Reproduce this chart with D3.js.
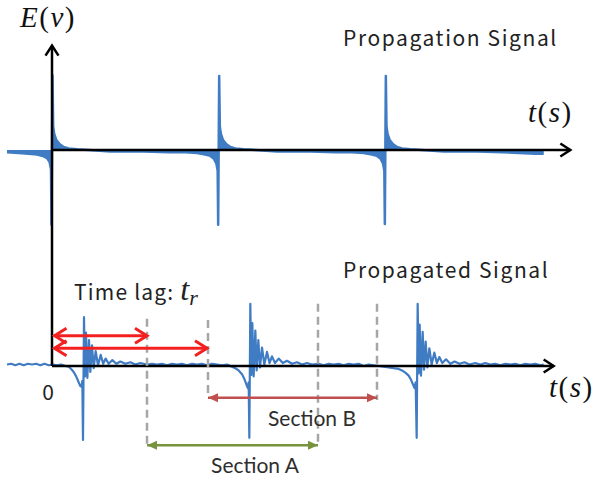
<!DOCTYPE html>
<meta charset="utf-8">
<style>
  body { margin: 0; background: #fff; }
</style>
<body>
<div class="chart"></div>
<script src="https://d3js.org/d3.v7.min.js"></script>
<script>

// time t (ms), amplitude v normalised to the spike height
var topSignal = [
  [-2.7,-0.03],[-2.0,-0.04],[-1.4,-0.05],[-0.9,-0.06],[-0.55,-0.08],[-0.3,-0.11],[-0.15,-0.16],[-0.06,-0.26],
  [-0.03,-1.01],[0.03,1.01],[0.07,0.32],[0.13,0.22],[0.25,0.14],[0.45,0.08],[0.7,0.04],[1.0,0.02],[1.5,0.01],
  [2.2,0.0],[3.5,-0.02],[5.5,-0.02],[7.0,-0.03],[8.0,-0.03],[8.7,-0.04],[9.2,-0.06],[9.5,-0.08],[9.72,-0.12],
  [9.86,-0.18],[9.94,-0.28],[9.97,-1.01],[10.03,1.0],[10.07,0.32],[10.13,0.22],[10.25,0.14],[10.45,0.08],
  [10.7,0.04],[11.0,0.02],[11.5,0.01],[12.2,0.0],[13.5,-0.02],[15.5,-0.02],[17.0,-0.03],[18.0,-0.03],
  [18.7,-0.04],[19.2,-0.06],[19.5,-0.08],[19.72,-0.12],[19.86,-0.18],[19.94,-0.28],[19.97,-1.0],[20.03,1.0],
  [20.07,0.32],[20.13,0.22],[20.25,0.14],[20.45,0.08],[20.7,0.04],[21.0,0.02],[21.5,0.01],[22.2,0.0],
  [23.5,-0.02],[25.5,-0.02],[27.0,-0.03],[28.0,-0.04],[29.0,-0.05],[29.5,-0.05]
];

var bottomSignal = [
  [-2.7,0.02],[-2.45,0.03],[-2.2,0.01],[-1.95,0.03],[-1.7,0.01],[-1.45,0.03],[-1.2,0.02],[-0.95,0.03],
  [-0.7,0.01],[-0.45,0.03],[-0.2,0.01],[0.05,0.02],[0.3,0.01],[0.55,0.02],[0.8,0.0],[1.0,-0.01],
  [1.15,-0.04],[1.3,-0.08],[1.45,-0.14],[1.58,-0.21],[1.7,-0.27],[1.78,-0.28],[1.82,-0.2],[1.86,-1.0],
  [1.92,0.66],[1.98,-0.14],[2.04,0.45],[2.12,-0.16],[2.22,0.35],[2.3,-0.08],[2.4,0.28],[2.5,-0.03],
  [2.62,0.2],[2.76,0.01],[2.92,0.15],[3.07,0.03],[3.22,0.1],[3.4,0.03],[3.62,0.08],[3.86,0.03],
  [4.1,0.06],[4.4,0.03],[4.7,0.05],[5.0,0.02],[5.3,0.04],[5.7,0.02],[6.0,0.03],[6.3,0.02],[6.6,0.03],
  [6.9,0.01],[7.2,0.03],[7.5,0.02],[7.8,0.03],[8.1,0.01],[8.4,0.03],[8.7,0.02],[9.0,0.03],[9.3,0.01],
  [9.6,0.03],[9.9,0.02],[10.2,0.01],[10.5,0.02],[10.8,-0.01],
  [11.0,-0.03],[11.2,-0.06],[11.4,-0.11],[11.55,-0.18],[11.68,-0.26],[11.76,-0.3],[11.8,-0.22],[11.84,-0.97],
  [11.9,0.84],[11.96,-0.12],[12.02,0.58],[12.1,-0.14],[12.2,0.48],[12.28,-0.06],[12.38,0.35],[12.48,-0.02],
  [12.6,0.25],[12.74,0.02],[12.9,0.19],[13.05,0.04],[13.2,0.13],[13.38,0.04],[13.6,0.1],[13.85,0.04],
  [14.1,0.07],[14.4,0.03],[14.7,0.05],[15.0,0.02],[15.3,0.04],[15.6,0.02],[16.0,0.03],[16.3,0.01],
  [16.6,0.03],[16.9,0.02],[17.2,0.03],[17.5,0.01],[17.8,0.03],[18.1,0.02],[18.4,0.03],[18.7,0.0],
  [19.0,0.02],[19.3,0.01],[19.6,0.0],[19.9,-0.01],[20.2,-0.02],[20.5,-0.03],[20.8,-0.04],
  [21.0,-0.06],[21.2,-0.09],[21.4,-0.13],[21.55,-0.19],[21.68,-0.26],[21.76,-0.3],[21.82,-0.22],[21.88,-0.97],
  [21.94,0.84],[22.0,-0.1],[22.06,0.56],[22.14,-0.13],[22.24,0.46],[22.32,-0.05],[22.42,0.33],[22.52,-0.02],
  [22.64,0.24],[22.78,0.02],[22.94,0.18],[23.09,0.04],[23.24,0.12],[23.42,0.04],[23.64,0.09],[23.9,0.03],
  [24.15,0.06],[24.45,0.03],[24.75,0.05],[25.05,0.02],[25.4,0.04],[25.7,0.02],[26.0,0.04],[26.3,0.02],
  [26.6,0.03],[26.9,0.01],[27.2,0.03],[27.5,0.02],[27.8,0.03],[28.1,0.01],[28.4,0.03],[28.7,0.02],
  [29.0,0.03],[29.3,0.01],[29.5,0.02]
];

// annotations (t in ms)
var lagEnds = [5.76, 9.36];
var lagLevels = [0.41, 0.24];
var sectionA = [5.7, 15.96];
var sectionB = [9.36, 19.5];
var dashTimes = [5.7, 9.36, 15.96, 19.5];
var dashTops = [0.64, 0.62, 0.84, 0.84];
var dashBottoms = [-1.07, -0.43, -1.07, -0.46];

var width = 604, height = 483;
var blue = "#3f7cc4";

var x = d3.scaleLinear().domain([0, 30]).range([52, 552]);
var yTop = d3.scaleLinear().domain([-1, 1]).range([224, 76]);
var yBot = d3.scaleLinear().domain([-1, 1]).range([440, 292]);

var svg = d3.select(".chart").append("svg")
    .attr("width", width)
    .attr("height", height)
    .style("display", "block");

// markers
var defs = svg.append("defs");
function chevron(id, color, w, len, half) {
  defs.append("marker")
      .attr("id", id)
      .attr("viewBox", (-len - 3) + " " + (-half - 3) + " " + (len + 6) + " " + (2 * half + 6))
      .attr("refX", 0).attr("refY", 0)
      .attr("markerWidth", len + 6).attr("markerHeight", 2 * half + 6)
      .attr("markerUnits", "userSpaceOnUse")
      .attr("orient", "auto-start-reverse")
    .append("path")
      .attr("d", "M" + (-len) + "," + (-half) + "L0,0L" + (-len) + "," + half)
      .attr("fill", "none")
      .attr("stroke", color)
      .attr("stroke-width", w)
      .attr("stroke-linejoin", "miter");
}
function triangle(id, color) {
  defs.append("marker")
      .attr("id", id)
      .attr("viewBox", "-10 -5 11 10")
      .attr("refX", 0).attr("refY", 0)
      .attr("markerWidth", 11).attr("markerHeight", 10)
      .attr("markerUnits", "userSpaceOnUse")
      .attr("orient", "auto-start-reverse")
    .append("path")
      .attr("d", "M-10,-4.5L0,0L-10,4.5Z")
      .attr("fill", color);
}
chevron("axisHead", "#000", 2.5, 10, 6.5);
chevron("redHead", "#f42020", 3, 12, 7.5);
triangle("headB", "#c0504d");
triangle("headA", "#77933c");

// signals
function drawSignal(data, y, filled) {
  if (filled) {
    svg.append("path")
        .datum(data)
        .attr("fill", blue)
        .attr("d", d3.area()
          .x(function(d) { return x(d[0]); })
          .y0(y(0))
          .y1(function(d) { return y(d[1]); }));
  }
  svg.append("path")
      .datum(data)
      .attr("fill", "none")
      .attr("stroke", blue)
      .attr("stroke-width", filled ? 2.5 : 2.2)
      .attr("stroke-linejoin", "round")
      .attr("d", d3.line()
        .x(function(d) { return x(d[0]); })
        .y(function(d) { return y(d[1]); }));
}
drawSignal(topSignal, yTop, true);
drawSignal(bottomSignal, yBot, false);

// axes
var axes = svg.append("g")
    .attr("stroke", "#000")
    .attr("stroke-width", 2.5)
    .attr("fill", "none");
axes.append("line")
    .attr("x1", x(0)).attr("x2", x(31.1))
    .attr("y1", yTop(0)).attr("y2", yTop(0))
    .attr("marker-end", "url(#axisHead)");
axes.append("line")
    .attr("x1", x(0)).attr("x2", x(30.1))
    .attr("y1", yBot(0)).attr("y2", yBot(0))
    .attr("marker-end", "url(#axisHead)");
axes.append("line")
    .attr("x1", x(0)).attr("x2", x(0))
    .attr("y1", yBot(0)).attr("y2", yTop(1.41))
    .attr("marker-end", "url(#axisHead)");

// dashed guides
svg.selectAll(".guide")
    .data(dashTimes)
  .enter().append("line")
    .attr("class", "guide")
    .attr("x1", function(d) { return x(d); })
    .attr("x2", function(d) { return x(d); })
    .attr("y1", function(d, i) { return yBot(dashTops[i]); })
    .attr("y2", function(d, i) { return yBot(dashBottoms[i]); })
    .attr("stroke", "#a6a6a6")
    .attr("stroke-width", 2.5)
    .attr("stroke-dasharray", "8,5");

// time lag arrows
svg.selectAll(".lag")
    .data(lagEnds)
  .enter().append("line")
    .attr("class", "lag")
    .attr("x1", x(0.15))
    .attr("x2", function(d) { return x(d) - 1; })
    .attr("y1", function(d, i) { return yBot(lagLevels[i]); })
    .attr("y2", function(d, i) { return yBot(lagLevels[i]); })
    .attr("stroke", "#f42020")
    .attr("stroke-width", 3)
    .attr("marker-start", "url(#redHead)")
    .attr("marker-end", "url(#redHead)");

// section arrows
svg.append("line")
    .attr("x1", x(sectionB[0])).attr("x2", x(sectionB[1]))
    .attr("y1", yBot(-0.43)).attr("y2", yBot(-0.43))
    .attr("stroke", "#c0504d").attr("stroke-width", 2.5)
    .attr("marker-start", "url(#headB)")
    .attr("marker-end", "url(#headB)");
svg.append("line")
    .attr("x1", x(sectionA[0])).attr("x2", x(sectionA[1]))
    .attr("y1", yBot(-1.07)).attr("y2", yBot(-1.07))
    .attr("stroke", "#77933c").attr("stroke-width", 2.5)
    .attr("marker-start", "url(#headA)")
    .attr("marker-end", "url(#headA)");

// text
var sans = "'Noto Sans CJK JP', 'Noto Sans', sans-serif";
var serif = "'Liberation Serif', 'DejaVu Serif', serif";

function mathLabel(px, py, a, b) {
  var t = svg.append("text")
      .attr("x", px).attr("y", py)
      .attr("font-family", serif)
      .attr("font-size", 29)
      .attr("letter-spacing", 1.5)
      .attr("fill", "#111");
  t.append("tspan").attr("font-style", "italic").text(a);
  t.append("tspan").text("(");
  t.append("tspan").attr("font-style", "italic").text(b);
  t.append("tspan").text(")");
}
mathLabel(20, 27, "E", "v");
mathLabel(528, 122, "t", "s");
mathLabel(549, 397, "t", "s");

svg.append("text")
    .attr("x", 343).attr("y", 46)
    .attr("font-family", sans).attr("font-size", 21)
    .attr("letter-spacing", 1.6)
    .attr("fill", "#222")
    .text("Propagation Signal");
svg.append("text")
    .attr("x", 343).attr("y", 278)
    .attr("font-family", sans).attr("font-size", 21)
    .attr("letter-spacing", 1.6)
    .attr("fill", "#222")
    .text("Propagated Signal");

var lag = svg.append("text")
    .attr("x", 74).attr("y", 300)
    .attr("font-family", sans).attr("font-size", 21)
    .attr("letter-spacing", 1.2)
    .attr("fill", "#222");
lag.append("tspan").text("Time lag: ");
lag.append("tspan")
    .attr("font-family", serif).attr("font-style", "italic")
    .attr("font-size", 32).attr("letter-spacing", 0).text("t");
lag.append("tspan")
    .attr("font-family", serif).attr("font-style", "italic")
    .attr("font-size", 22).attr("letter-spacing", 0).attr("dy", 5).text("r");

svg.append("text")
    .attr("x", 48).attr("y", 400)
    .attr("text-anchor", "middle")
    .attr("font-family", sans).attr("font-size", 21)
    .attr("fill", "#222")
    .text("0");

svg.append("text")
    .attr("x", 312).attr("y", 426)
    .attr("text-anchor", "middle")
    .attr("font-family", "Lato, 'Open Sans', sans-serif").attr("font-size", 21)
    .attr("fill", "#2e2e2e")
    .text("Section B");
svg.append("text")
    .attr("x", 255).attr("y", 473)
    .attr("text-anchor", "middle")
    .attr("font-family", "Lato, 'Open Sans', sans-serif").attr("font-size", 21)
    .attr("fill", "#2e2e2e")
    .text("Section A");

</script>
</body>
